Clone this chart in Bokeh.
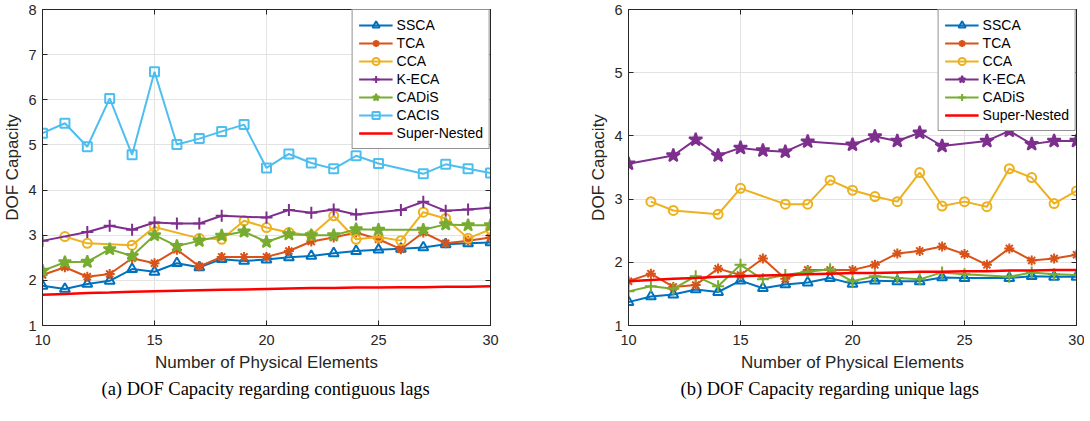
from bokeh.plotting import figure
from bokeh.layouts import row
from bokeh.models import Legend, LegendItem, Title, FixedTicker, Range1d, LinearAxis
from bokeh.embed import file_html
from bokeh.resources import INLINE

# ---------------- data: panel (a) contiguous lags ----------------
a_ssca_x = list(range(10, 31))
a_ssca_y = [1.88, 1.81, 1.92, 1.99, 2.25, 2.19, 2.38, 2.29, 2.47, 2.43, 2.46,
            2.51, 2.54, 2.60, 2.65, 2.68, 2.70, 2.73, 2.80, 2.82, 2.84]
a_tca_x = list(range(10, 31))
a_tca_y = [2.12, 2.29, 2.08, 2.14, 2.49, 2.38, 2.68, 2.31, 2.52, 2.52, 2.52,
           2.65, 2.86, 2.95, 3.06, 2.91, 2.69, 3.06, 2.82, 2.875, 2.95]
a_cca_x = [11, 12, 14, 15, 17, 18, 19, 20, 21, 22, 23, 24, 25, 26, 27, 28, 29, 30]
a_cca_y = [2.97, 2.82, 2.78, 3.18, 2.93, 2.91, 3.32, 3.17, 3.06, 3.00, 3.43,
           2.91, 2.96, 2.88, 3.51, 3.37, 2.93, 3.13]
a_keca_x = [10, 12, 13, 14, 15, 16, 17, 18, 20, 21, 22, 23, 24, 26, 27, 28, 29, 30]
a_keca_y = [2.875, 3.07, 3.21, 3.12, 3.28, 3.26, 3.26, 3.43, 3.39, 3.56, 3.50,
            3.57, 3.46, 3.56, 3.74, 3.54, 3.57, 3.61]
a_cadis_x = [10, 11, 12, 13, 14, 15, 16, 17, 18, 19, 20, 21, 22, 23, 24, 25, 27, 28, 29, 30]
a_cadis_y = [2.21, 2.40, 2.41, 2.69, 2.54, 3.00, 2.76, 2.875, 2.99, 3.08, 2.85,
             3.02, 3.00, 3.00, 3.13, 3.12, 3.12, 3.24, 3.22, 3.22]
a_cacis_x = [10, 11, 12, 13, 14, 15, 16, 17, 18, 19, 20, 21, 22, 23, 24, 25, 27, 28, 29, 30]
a_cacis_y = [5.26, 5.48, 4.96, 6.03, 4.78, 6.62, 5.01, 5.14, 5.30, 5.45, 4.49,
             4.80, 4.60, 4.47, 4.76, 4.59, 4.36, 4.57, 4.47, 4.38]
a_sn_x = list(range(10, 31))
a_sn_y = [1.68, 1.70, 1.72, 1.73, 1.75, 1.76, 1.77, 1.78, 1.79, 1.80, 1.81,
          1.82, 1.83, 1.83, 1.84, 1.84, 1.85, 1.85, 1.86, 1.86, 1.87]

# ---------------- data: panel (b) unique lags ----------------
b_ssca_x = [10, 11, 12, 13, 14, 15, 16, 17, 18, 19, 20, 21, 22, 23, 24, 25, 27, 28, 29, 30]
b_ssca_y = [1.37, 1.46, 1.49, 1.57, 1.53, 1.71, 1.59, 1.65, 1.68, 1.75, 1.66,
            1.71, 1.70, 1.70, 1.76, 1.75, 1.75, 1.78, 1.77, 1.77]
b_tca_x = list(range(10, 31))
b_tca_y = [1.70, 1.82, 1.61, 1.64, 1.90, 1.80, 2.06, 1.74, 1.88, 1.88, 1.88,
           1.96, 2.14, 2.18, 2.25, 2.13, 1.96, 2.22, 2.03, 2.06, 2.12]
b_cca_x = [11, 12, 14, 15, 17, 18, 19, 20, 21, 22, 23, 24, 25, 26, 27, 28, 29, 30]
b_cca_y = [2.96, 2.82, 2.76, 3.17, 2.92, 2.92, 3.30, 3.14, 3.04, 2.96, 3.42,
           2.89, 2.96, 2.88, 3.48, 3.34, 2.93, 3.13]
b_keca_x = [10, 12, 13, 14, 15, 16, 17, 18, 20, 21, 22, 23, 24, 26, 27, 28, 29, 30]
b_keca_y = [3.56, 3.69, 3.94, 3.69, 3.81, 3.77, 3.75, 3.91, 3.86, 3.99, 3.92,
            4.05, 3.84, 3.92, 4.08, 3.87, 3.92, 3.92]
b_cadis_x = [10, 11, 12, 13, 14, 15, 16, 17, 18, 19, 20, 21, 22, 23, 24, 25, 27, 28, 29, 30]
b_cadis_y = [1.54, 1.62, 1.58, 1.78, 1.62, 1.96, 1.73, 1.80, 1.85, 1.89, 1.70,
             1.78, 1.75, 1.73, 1.84, 1.81, 1.77, 1.84, 1.81, 1.80]
b_sn_x = list(range(10, 31))
b_sn_y = [1.70, 1.72, 1.74, 1.75, 1.77, 1.78, 1.79, 1.80, 1.81, 1.82, 1.83,
          1.83, 1.84, 1.85, 1.85, 1.86, 1.86, 1.87, 1.87, 1.88, 1.88]

x_ticks = [10, 15, 20, 25, 30]
xlabel = "Number of Physical Elements"
ylabel = "DOF Capacity"
cap_a = "(a) DOF Capacity regarding contiguous lags"
cap_b = "(b) DOF Capacity regarding unique lags"

C_BLUE = "#0072BD"
C_ORANGE = "#D95319"
C_YELLOW = "#EDB120"
C_PURPLE = "#7E2F8E"
C_GREEN = "#77AC30"
C_CYAN = "#4DBEEE"
C_RED = "#FF0000"

TXT = "#262626"
SANS = "Liberation Sans"


def style_axis(ax):
    ax.major_tick_in = 5
    ax.major_tick_out = 0
    ax.minor_tick_in = 0
    ax.minor_tick_out = 0
    ax.axis_line_color = TXT
    ax.major_tick_line_color = TXT
    ax.major_label_text_font = SANS
    ax.major_label_text_font_size = "14.5px"
    ax.major_label_text_color = TXT
    ax.axis_label_text_font = SANS
    ax.axis_label_text_font_size = "17px"
    ax.axis_label_text_font_style = "normal"
    ax.axis_label_text_color = TXT


def make_panel(series, ymax, caption, border_left, border_right, cap_offset):
    p = figure(frame_width=448, frame_height=316, output_backend="svg", toolbar_location=None,
               x_range=Range1d(10, 30), y_range=Range1d(1, ymax),
               min_border_left=border_left, min_border_right=border_right,
               min_border_top=9, min_border_bottom=0)
    p.xaxis.ticker = FixedTicker(ticks=x_ticks)
    p.yaxis.ticker = FixedTicker(ticks=list(range(1, ymax + 1)))
    style_axis(p.xaxis[0])
    style_axis(p.yaxis[0])
    p.xaxis.axis_label = xlabel
    p.yaxis.axis_label = ylabel
    p.xaxis.major_label_standoff = 9
    p.xaxis.axis_label_standoff = 5
    p.yaxis.major_label_standoff = 6
    p.yaxis.axis_label_standoff = 3

    # box ticks on the top and right edges (no labels)
    top = LinearAxis(ticker=FixedTicker(ticks=x_ticks))
    right = LinearAxis(ticker=FixedTicker(ticks=list(range(1, ymax + 1))))
    for ax in (top, right):
        style_axis(ax)
        ax.major_label_text_font_size = "0px"
        ax.major_label_text_alpha = 0
        ax.major_label_standoff = 0
    p.add_layout(top, "above")
    p.add_layout(right, "right")

    p.xgrid.grid_line_color = "#e3e3e3"
    p.ygrid.grid_line_color = "#e3e3e3"
    p.outline_line_color = TXT
    p.outline_line_alpha = 1
    p.background_fill_color = "white"
    p.border_fill_color = "white"

    items = []
    for name, xs, ys, color, marker, msize, filled, lw in series:
        rs = [p.line(xs, ys, line_color=color, line_width=lw)]
        if marker is not None:
            rs.append(p.scatter(xs, ys, marker=marker, size=msize, line_color=color,
                                line_width=2, fill_color=color if filled else None))
        items.append(LegendItem(label=name, renderers=rs))
    leg = Legend(items=items, location="top_right", margin=0, padding=6, spacing=0,
                 glyph_width=34, glyph_height=18, label_height=18, label_standoff=4,
                 label_text_font=SANS, label_text_font_size="14px",
                 label_text_color="black", border_line_color=TXT, border_line_width=1,
                 background_fill_color="white", background_fill_alpha=1)
    p.add_layout(leg, "center")
    t = Title(text=caption, text_font="Liberation Serif", text_font_size="18.5px",
              text_font_style="normal", text_color="black", align="left",
              offset=cap_offset, standoff=5)
    p.add_layout(t, "below")
    return p


series_a = [
    ("SSCA", a_ssca_x, a_ssca_y, C_BLUE, "triangle", 10, False, 2),
    ("TCA", a_tca_x, a_tca_y, C_ORANGE, "asterisk", 10, False, 2),
    ("CCA", a_cca_x, a_cca_y, C_YELLOW, "circle", 9, False, 2),
    ("K-ECA", a_keca_x, a_keca_y, C_PURPLE, "cross", 12, False, 2),
    ("CADiS", a_cadis_x, a_cadis_y, C_GREEN, "star", 13, True, 2),
    ("CACIS", a_cacis_x, a_cacis_y, C_CYAN, "square", 9, False, 2),
    ("Super-Nested", a_sn_x, a_sn_y, C_RED, None, 0, False, 2.5),
]
series_b = [
    ("SSCA", b_ssca_x, b_ssca_y, C_BLUE, "triangle", 10, False, 2),
    ("TCA", b_tca_x, b_tca_y, C_ORANGE, "asterisk", 10, False, 2),
    ("CCA", b_cca_x, b_cca_y, C_YELLOW, "circle", 9, False, 2),
    ("K-ECA", b_keca_x, b_keca_y, C_PURPLE, "star", 14, True, 2),
    ("CADiS", b_cadis_x, b_cadis_y, C_GREEN, "cross", 12, False, 2),
    ("Super-Nested", b_sn_x, b_sn_y, C_RED, None, 0, False, 2.5),
]

pa = make_panel(series_a, 8, cap_a, 37, 60, 59)
pb = make_panel(series_b, 6, cap_b, 78, 8, 52)

layout = row(pa, pb)
open("out.html", "w").write(file_html(layout, INLINE))
